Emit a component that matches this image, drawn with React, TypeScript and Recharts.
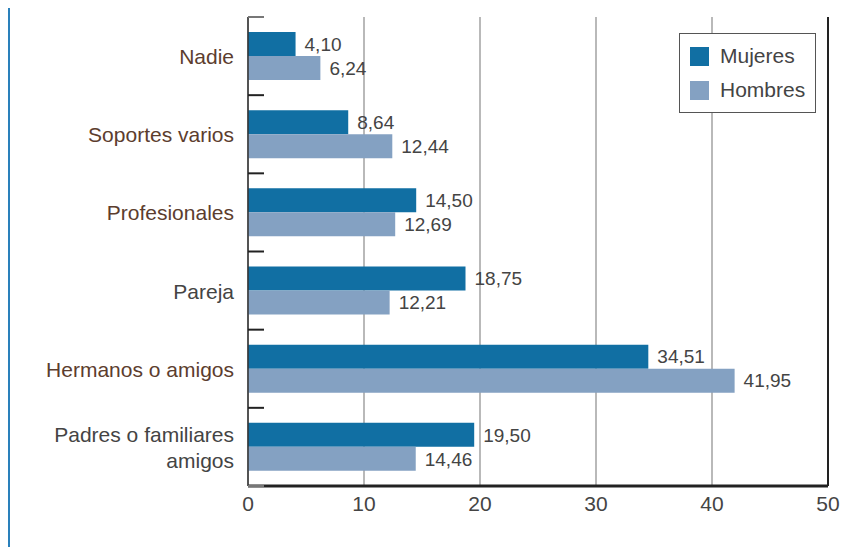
import { Bar, BarChart, CartesianGrid, LabelList, ReferenceLine, XAxis, YAxis } from "recharts";

const categories = [
  "Nadie",
  "Soportes varios",
  "Profesionales",
  "Pareja",
  "Hermanos o amigos",
  "Padres o familiares amigos",
];
const mujeres = [4.1, 8.64, 14.5, 18.75, 34.51, 19.5];
const hombres = [6.24, 12.44, 12.69, 12.21, 41.95, 14.46];
const xTicks = [0, 10, 20, 30, 40, 50];
const labelColors = ["#5c3d2e", "#5c3d2e", "#5c3d2e", "#444444", "#5c3d2e", "#444444"];

const MUJ = "#116fa3";
const HOM = "#84a1c2";
const FONT = "'Liberation Sans', Arial, sans-serif";
const TICK_GAP = 14;

const data = categories.map((name, i) => ({ name, mujeres: mujeres[i], hombres: hombres[i] }));

const fmt = (v: unknown) => Number(v).toFixed(2).replace(".", ",");

function CategoryTick(props: any) {
  const { x, y, payload, index } = props;
  const half = payload.offset ?? 0;
  const text: string = payload.value;
  let lines = [text];
  if (text.length > 20) {
    const cut = text.lastIndexOf(" ");
    lines = [text.slice(0, cut), text.slice(cut + 1)];
  }
  const axisX = x + TICK_GAP;
  const lh = 26;
  return (
    <g>
      <text
        x={x}
        y={y}
        textAnchor="end"
        fill={labelColors[index] ?? "#444"}
        fontSize={21}
        fontFamily={FONT}
        dominantBaseline="central"
      >
        {lines.map((l, i) => (
          <tspan key={i} x={x} dy={i === 0 ? -((lines.length - 1) * lh) / 2 : lh}>
            {l}
          </tspan>
        ))}
      </text>
      <line
        x1={axisX}
        x2={axisX + 16}
        y1={y - half}
        y2={y - half}
        stroke={index === 0 ? "#777" : "#222"}
        strokeWidth={2}
      />
      {index === categories.length - 1 && (
        <line x1={axisX} x2={axisX + 16} y1={y + half} y2={y + half} stroke="#777" strokeWidth={2} />
      )}
    </g>
  );
}

function LegendBox() {
  const items = [
    { label: "Mujeres", color: MUJ },
    { label: "Hombres", color: HOM },
  ];
  return (
    <div
      style={{
        position: "absolute",
        left: 669,
        top: 25,
        border: "1.5px solid #555",
        background: "#fff",
        width: 137,
        padding: "5px 0 5px 10px",
        boxSizing: "border-box",
        fontFamily: FONT,
      }}
    >
      {items.map((it) => (
        <div key={it.label} style={{ display: "flex", alignItems: "center", height: 34 }}>
          <span style={{ display: "inline-block", width: 19, height: 19, background: it.color, marginRight: 11 }} />
          <span style={{ fontSize: 21, color: "#444" }}>{it.label}</span>
        </div>
      ))}
    </div>
  );
}

export default function App() {
  return (
    <div
      style={{
        position: "relative",
        borderLeft: "2px solid #2a80bb",
        width: 848,
        height: 539,
        background: "#fff",
      }}
    >
      <BarChart
        width={848}
        height={539}
        data={data}
        layout="vertical"
        margin={{ top: 9, right: 30, left: 0, bottom: 29 }}
        barGap={0}
        barSize={24}
      >
        <CartesianGrid horizontal={false} stroke="#8a8a8a" strokeWidth={1.2} />
        <XAxis
          type="number"
          domain={[0, 50]}
          ticks={xTicks}
          interval={0}
          axisLine={{ stroke: "#222", strokeWidth: 3 }}
          tickLine={false}
          tickSize={0}
          tickMargin={10}
          height={32}
          tick={{ fontSize: 21, fill: "#444", fontFamily: FONT }}
        />
        <YAxis
          type="category"
          dataKey="name"
          width={238}
          axisLine={{ stroke: "#333", strokeWidth: 1.5 }}
          tickLine={false}
          tickSize={0}
          tickMargin={TICK_GAP}
          interval={0}
          tick={<CategoryTick />}
        />
        <ReferenceLine x={50} stroke="#222" strokeWidth={2} />
        <Bar dataKey="mujeres" name="Mujeres" fill={MUJ} isAnimationActive={false}>
          <LabelList
            dataKey="mujeres"
            position="right"
            offset={9}
            formatter={fmt}
            fill="#444"
            fontSize={19}
            fontFamily={FONT}
          />
        </Bar>
        <Bar dataKey="hombres" name="Hombres" fill={HOM} isAnimationActive={false}>
          <LabelList
            dataKey="hombres"
            position="right"
            offset={9}
            formatter={fmt}
            fill="#444"
            fontSize={19}
            fontFamily={FONT}
          />
        </Bar>
      </BarChart>
      <LegendBox />
    </div>
  );
}
